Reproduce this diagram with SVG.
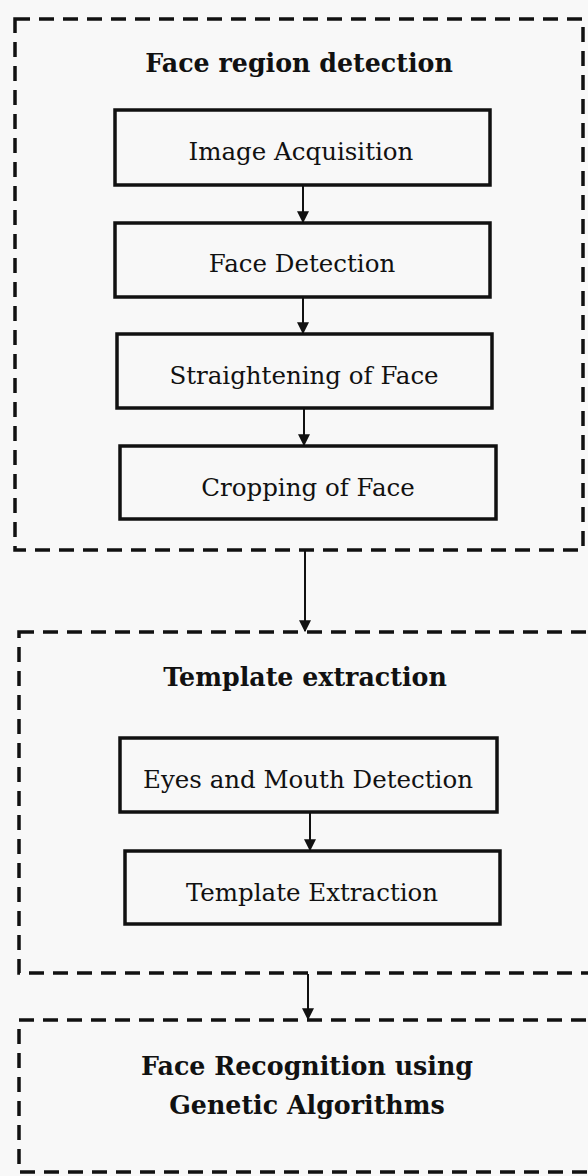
<svg xmlns="http://www.w3.org/2000/svg" width="588" height="1176" viewBox="0 0 588 1176">
<defs>
<style>
.grp{fill:none;stroke:#111;stroke-width:3.5;stroke-dasharray:15 9}
.box{fill:none;stroke:#111;stroke-width:3.5}
.t{font-family:"DejaVu Serif","Liberation Serif",serif;font-size:24.5px;fill:#111;text-anchor:middle}
.h{font-family:"DejaVu Serif","Liberation Serif",serif;font-size:25.3px;font-weight:bold;fill:#111;text-anchor:middle}
.c{stroke:#111;stroke-width:2;fill:none;marker-end:url(#ah)}
</style>
<marker id="ah" viewBox="0 0 10 10" refX="9" refY="5" markerWidth="6" markerHeight="6" markerUnits="strokeWidth" orient="auto">
<path d="M0,0 L10,5 L0,10 z" fill="#111"/>
</marker>
</defs>
<rect width="588" height="1176" fill="#f8f8f8"/>
<g id="group-face-region">
<rect class="grp" x="15" y="19" width="568" height="531"/>
<text class="h" x="299" y="72">Face region detection</text>
</g>
<g id="node-image-acquisition">
<rect class="box" x="115" y="110" width="375" height="75"/>
<text class="t" x="301" y="160">Image Acquisition</text>
</g>
<g id="node-face-detection">
<rect class="box" x="115" y="223" width="375" height="74"/>
<text class="t" x="302" y="272">Face Detection</text>
</g>
<g id="node-straightening">
<rect class="box" x="117" y="334" width="375" height="74"/>
<text class="t" x="304" y="384">Straightening of Face</text>
</g>
<g id="node-cropping">
<rect class="box" x="120" y="446" width="376" height="73"/>
<text class="t" x="308" y="496">Cropping of Face</text>
</g>
<g id="group-template">
<rect class="grp" x="19" y="632" width="574" height="341"/>
<text class="h" x="305" y="686">Template extraction</text>
</g>
<g id="node-eyes-mouth">
<rect class="box" x="120" y="738" width="377" height="74"/>
<text class="t" x="308" y="788">Eyes and Mouth Detection</text>
</g>
<g id="node-template-extraction">
<rect class="box" x="125" y="851" width="375" height="73"/>
<text class="t" x="312" y="901">Template Extraction</text>
</g>
<g id="group-recognition">
<rect class="grp" x="19" y="1020" width="580" height="152"/>
<text class="h" x="307" y="1075">Face Recognition using</text>
<text class="h" x="307" y="1114">Genetic Algorithms</text>
</g>
<g id="connectors">
<line class="c" x1="303" y1="186" x2="303" y2="222"/>
<line class="c" x1="303" y1="298" x2="303" y2="333"/>
<line class="c" x1="304" y1="409" x2="304" y2="445"/>
<line class="c" x1="305" y1="551" x2="305" y2="631"/>
<line class="c" x1="310" y1="813" x2="310" y2="850"/>
<line class="c" x1="308" y1="974" x2="308" y2="1019"/>
</g>
</svg>
